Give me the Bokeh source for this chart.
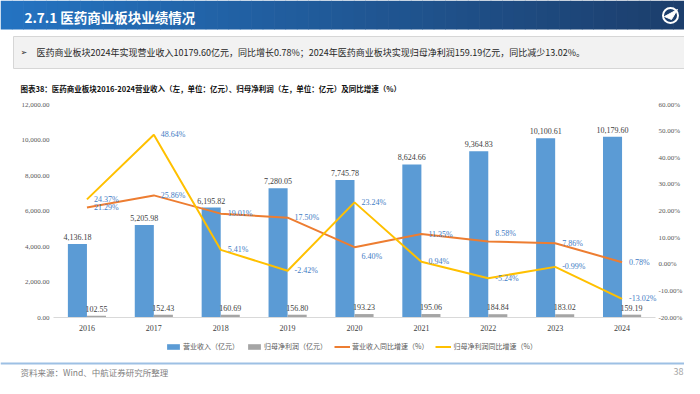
import math
from bokeh.plotting import figure
from bokeh.models import Range1d, Legend, LegendItem, ColumnDataSource, LabelSet
from bokeh.transform import dodge
from bokeh.core.properties import value
from bokeh.embed import file_html
from bokeh.resources import INLINE

# ---------------- data ----------------
years = ["2016", "2017", "2018", "2019", "2020", "2021", "2022", "2023", "2024"]
revenue = [4136.18, 5205.98, 6195.82, 7280.05, 7745.78, 8624.66, 9364.83, 10100.61, 10179.60]
profit = [102.55, 152.43, 160.69, 156.80, 193.23, 195.06, 184.84, 183.02, 159.19]
revenue_growth = [21.29, 25.86, 19.01, 17.50, 6.40, 11.35, 8.58, 7.86, 0.78]
profit_growth = [24.37, 48.64, 5.41, -2.42, 23.24, 0.94, -5.24, -0.99, -13.02]
left_ticks = [0, 2000, 4000, 6000, 8000, 10000, 12000]
right_ticks = [-20, -10, 0, 10, 20, 30, 40, 50, 60]
series_names = ["营业收入（亿元）", "归母净利润（亿元）", "营业收入同比增速（%）", "归母净利润同比增速（%）"]

title_text = "2.7.1 医药商业板块业绩情况"
summary_text = "医药商业板块2024年实现营业收入10179.60亿元，同比增长0.78%；2024年医药商业板块实现归母净利润159.19亿元，同比减少13.02%。"
caption_text = "图表38：医药商业板块2016-2024营业收入（左，单位：亿元）、归母净利润（左，单位：亿元）及同比增速（%）"
source_text = "资料来源：Wind、中航证券研究所整理"
page_no = "38"

# label nudges (style only, pixels, positive = up)
rg_label_dy = [0, 0, 0, 0, -9, 0, 8, 0, 0]
pg_label_dy = [0, 0, 0, 0, 0, 0, 0, 0, 0]

# ---------------- geometry (canvas pixels) ----------------
W, H = 684, 378
FL, FR, FT, FB = 53, 655, 104, 317   # chart plotting area
L_MAX, P_MIN, P_MAX = 12000.0, -20.0, 60.0

BLUE = "#5B9BD5"
GRAY = "#A5A5A5"
ORANGE = "#ED7D31"
YELLOW = "#FFC000"
LBL_BLUE = "#3F7CC4"
CJK = value("Noto Sans CJK SC")
SERIF = value("Liberation Serif")

ncat = len(years)
s = (FR - FL) / ncat
ky = L_MAX / (FB - FT)
kp = (P_MAX - P_MIN) / (FB - FT)

idx = list(range(ncat))
src = ColumnDataSource(dict(
    xi=idx,
    revenue=revenue,
    profit=profit,
    rg=revenue_growth,
    pg=profit_growth,
    rev_lbl=[f"{v:,.2f}" for v in revenue],
    pro_lbl=[f"{v:,.2f}" for v in profit],
    rg_lbl=[f"{v:.2f}%" for v in revenue_growth],
    pg_lbl=[f"{v:.2f}%" for v in profit_growth],
    rg_dy=rg_label_dy,
    pg_dy=pg_label_dy,
))

p = figure(width=W, height=H,
           x_range=Range1d(-0.5 - FL / s, ncat - 0.5 + (W - FR) / s),
           y_range=Range1d(-(H - FB) * ky, L_MAX + FT * ky),
           output_backend="svg", toolbar_location=None, min_border=0,
           x_axis_location=None, y_axis_location=None)
p.outline_line_color = None
p.grid.grid_line_color = None
p.extra_y_ranges = {"pct": Range1d(P_MIN - (H - FB) * kp, P_MAX + FT * kp),
                    "py": Range1d(H, 0)}
p.extra_x_ranges = {"px": Range1d(0, W)}

# ---------------- decorations ----------------
def quad(l, r, t, b, fill, line=None):
    p.quad(left=l, right=r, top=t, bottom=b, x_range_name="px", y_range_name="py",
           fill_color=fill, line_color=line)

def label(x, y, text, size, color, font=CJK, style="normal", align="left"):
    p.text(x=[x], y=[y], text=[text], x_range_name="px", y_range_name="py",
           text_font=font, text_font_size=size, text_color=color,
           text_font_style=style, text_baseline="middle", text_align=align)

n = 60
c0 = (0x24, 0x73, 0xC1)
c1 = (0x1C, 0x3E, 0x6C)
gl, gr, gc = [], [], []
for i in range(n):
    t = i / (n - 1)
    rgb = tuple(int(round(a + (b - a) * t)) for a, b in zip(c0, c1))
    gl.append(W * i / n)
    gr.append(W * (i + 1) / n + 0.6)
    gc.append("#%02x%02x%02x" % rgb)
quad(gl, gr, 0, 29, gc)

label(24, 16, title_text, "13.5px", "white", style="bold")

# logo
cx, cy = 670, 15
p.circle(x=[cx], y=[cy], radius=7.5, x_range_name="px", y_range_name="py",
         fill_color=None, line_color="white", line_width=2)
p.patch(x=[cx - 6, cx + 7, cx + 1], y=[cy + 1, cy - 6, cy + 4], x_range_name="px", y_range_name="py",
        fill_color="white", line_color="white")

# summary box
quad(13, 686, 36, 68, "#F2F2F2", "#D6D6D6")
label(20, 52, "➢", "8px", "#262626", font=value("DejaVu Sans"))
label(36, 52, summary_text, "9px", "#262626")
label(20, 88, caption_text, "7.5px", "#111111", style="bold")

# footer
quad(0, W, 362, 364, "#9DC0E4")
label(20, 371, source_text, "8.5px", "#7F7F7F")
label(683, 371, page_no, "9px", "#A6A6A6", align="right")

# ---------------- chart ----------------
off = 0.1425
bw = 0.285
r_rev = p.vbar(x=dodge("xi", -off), top="revenue", width=bw, source=src,
               fill_color=BLUE, line_color=None)
r_pro = p.vbar(x=dodge("xi", off), top="profit", width=bw, source=src,
               fill_color=GRAY, line_color=None)
r_rg = p.line(x="xi", y="rg", source=src, y_range_name="pct", line_color=ORANGE, line_width=2)
r_pg = p.line(x="xi", y="pg", source=src, y_range_name="pct", line_color=YELLOW, line_width=2)

p.add_layout(LabelSet(x=dodge("xi", -off), y="revenue", text="rev_lbl", source=src,
                      text_align="center", text_baseline="bottom", y_offset=4,
                      text_font="Liberation Serif", text_font_size="8px", text_color="#404040"))
p.add_layout(LabelSet(x=dodge("xi", off), y="profit", text="pro_lbl", source=src,
                      text_align="center", text_baseline="bottom", y_offset=4,
                      text_font="Liberation Serif", text_font_size="8px", text_color="#404040"))
p.add_layout(LabelSet(x="xi", y="rg", text="rg_lbl", source=src, y_range_name="pct",
                      x_offset=7, y_offset="rg_dy", text_align="left", text_baseline="middle",
                      text_font="Liberation Serif", text_font_size="8px", text_color=LBL_BLUE))
p.add_layout(LabelSet(x="xi", y="pg", text="pg_lbl", source=src, y_range_name="pct",
                      x_offset=7, y_offset="pg_dy", text_align="left", text_baseline="middle",
                      text_font="Liberation Serif", text_font_size="8px", text_color=LBL_BLUE))

# axes (drawn through the same scales)
x_lo, x_hi = -0.5, ncat - 0.5
p.segment(x0=[x_lo], y0=[0], x1=[x_hi], y1=[0], line_color="#D9D9D9", line_width=1)
p.text(x=[x_lo] * len(left_ticks), y=left_ticks, text=[f"{t:,.2f}" for t in left_ticks],
       x_offset=-4, text_align="right", text_baseline="middle",
       text_font=SERIF, text_font_size="7px", text_color="#595959")
p.text(x=[x_hi] * len(right_ticks), y=right_ticks, text=[f"{t:.2f}%" for t in right_ticks],
       y_range_name="pct", x_offset=3, text_align="left", text_baseline="middle",
       text_font=SERIF, text_font_size="7px", text_color="#595959")
p.text(x=idx, y=[0] * ncat, text=years, y_offset=10, text_align="center", text_baseline="middle",
       text_font=SERIF, text_font_size="8px", text_color="#404040")

legend = Legend(items=[
    LegendItem(label=series_names[0], renderers=[r_rev]),
    LegendItem(label=series_names[1], renderers=[r_pro]),
    LegendItem(label=series_names[2], renderers=[r_rg]),
    LegendItem(label=series_names[3], renderers=[r_pg]),
], orientation="horizontal", location=(165, 27))
legend.label_text_font = "Noto Sans CJK SC"
legend.label_text_font_size = "7px"
legend.label_text_color = "#595959"
legend.glyph_width = 16
legend.glyph_height = 7
legend.label_standoff = 2
legend.spacing = 7
legend.padding = 2
legend.margin = 0
legend.border_line_color = None
legend.background_fill_alpha = 0
legend.label_height = 8
p.add_layout(legend, "center")

open("out.html", "w").write(file_html(p, INLINE))
